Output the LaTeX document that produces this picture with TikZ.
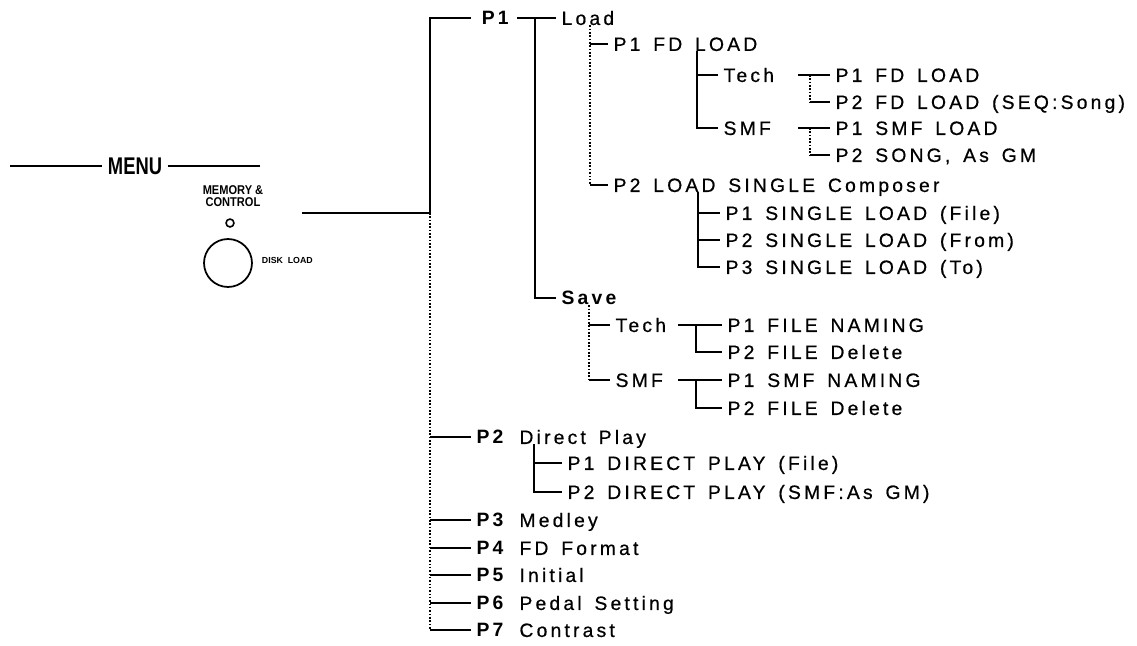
\documentclass[tikz,border=0pt]{standalone}
\usepackage{fontspec}
\setmainfont{Liberation Sans}
\newfontfamily\spaced[LetterSpace=16.5,WordSpace=1.5,UprightFeatures={FakeBold=0.6}]{Liberation Sans}
\usetikzlibrary{positioning}
\newcommand\itemfont{\spaced\fontsize{11}{12}\selectfont}
\tikzset{
item/.style={anchor=west,inner xsep=3pt,inner ysep=0pt,text height=7.9pt,text depth=0pt,font=\itemfont},
link/.style={line width=.9pt},
dotlink/.style={line width=.9pt,densely dotted},
tinylabel/.style={inner sep=0pt,align=center,font=\bfseries\fontsize{6.3}{7}\selectfont},
menulabel/.style={inner sep=3pt,font=\bfseries\fontsize{11}{12}\selectfont}
}

\begin{document}
\begin{tikzpicture}[x=0.02cm,y=-0.02cm]
\useasboundingbox (0,0) rectangle (1137,646);

\node[menulabel] (menu) at (135,166) {\scalebox{0.95}[1.25]{MENU}};
\coordinate (menuL) at (10,166);
\coordinate (menuR) at (260,166);
\draw[link] (menuL) -- (menu.west);
\draw[link] (menu.east) -- (menuR);

\node[tinylabel] (memctl) at (233,196) {\scalebox{1}[1.15]{MEMORY \&}\\\scalebox{1}[1.15]{CONTROL}};
\node[circle,draw,line width=.9pt,minimum size=4.5pt,inner sep=0pt] (led) at (230,223) {};
\node[circle,draw,line width=1pt,minimum size=27.3pt,inner sep=0pt] (button) at (228,263) {};
\node[tinylabel,font=\bfseries\fontsize{5}{6}\selectfont,right=5pt of button,yshift=1.5pt] (disk) {DISK\ \ LOAD};
\coordinate (btnlink) at (302,213);

\node[item,inner xsep=6pt] (p1) at (471,18) {\textbf{P1}};
\node[item] (p2) at (471,437) {\textbf{P2} Direct Play};
\node[item] (p3) at (471,520) {\textbf{P3} Medley};
\node[item] (p4) at (471,548) {\textbf{P4} FD Format};
\node[item] (p5) at (471,575) {\textbf{P5} Initial};
\node[item] (p6) at (471,603) {\textbf{P6} Pedal Setting};
\node[item] (p7) at (471,630) {\textbf{P7} Contrast};

\node[item] (load) at (556,18) {Load};
\node[item] (save) at (556,298) {\textbf{Save}};

\node[item] (fdload) at (608,44) {P1 FD LOAD};
\node[item] (single) at (608,185) {P2 LOAD SINGLE Composer};

\node[item] (tech) at (718,75) {Tech};
\node[item] (smf) at (718,128) {SMF};
\node[item] (fdone) at (830,75) {P1 FD LOAD};
\node[item] (fdtwo) at (830,102) {P2 FD LOAD (SEQ:Song)};
\node[item] (smfone) at (830,128) {P1 SMF LOAD};
\node[item] (smftwo) at (830,155) {P2 SONG, As GM};

\node[item] (sgone) at (720,213) {P1 SINGLE LOAD (File)};
\node[item] (sgtwo) at (720,240) {P2 SINGLE LOAD (From)};
\node[item] (sgthree) at (720,267) {P3 SINGLE LOAD (To)};

\node[item] (svtech) at (610,325) {Tech};
\node[item] (svsmf) at (610,380) {SMF};
\node[item] (fnone) at (722,325) {P1 FILE NAMING};
\node[item] (fntwo) at (722,352) {P2 FILE Delete};
\node[item] (snone) at (722,380) {P1 SMF NAMING};
\node[item] (sntwo) at (722,408) {P2 FILE Delete};

\node[item] (dpone) at (562,463) {P1 DIRECT PLAY (File)};
\node[item] (dptwo) at (562,492) {P2 DIRECT PLAY (SMF:As GM)};

\coordinate (trunk) at (430,0);
\coordinate (pjoin) at (517,0);
\coordinate (pbar) at (535,0);
\coordinate (lbar) at (590,0);
\coordinate (fbar) at (697,0);
\coordinate (tjoin) at (798,0);
\coordinate (tbar) at (810,0);
\coordinate (sbar) at (698,0);
\coordinate (vbar) at (589,0);
\coordinate (vjoin) at (678,0);
\coordinate (vbarb) at (696,0);
\coordinate (dbar) at (534,0);

\draw[link] (btnlink) -- (btnlink -| trunk);
\draw[link] (p1.west) -- (p1.west -| trunk) -- (btnlink -| trunk);
\draw[dotlink] (btnlink -| trunk) -- (p7.west -| trunk);
\foreach \n in {p2,p3,p4,p5,p6,p7}
  \draw[link] (\n.west -| trunk) -- (\n.west);

\draw[link] (pjoin |- load.west) -- (load.west);
\draw[link] (pbar |- load.west) -- (pbar |- save.west) -- (save.west);

\draw[dotlink] (lbar |- load.south) -- (lbar |- single.west);
\draw[link] (lbar |- fdload.west) -- (fdload.west);
\draw[link] (lbar |- single.west) -- (single.west);

\draw[link] (fbar |- fdload.south) -- (fbar |- smf.west) -- (smf.west);
\draw[link] (fbar |- tech.west) -- (tech.west);

\draw[link] (tjoin |- fdone.west) -- (fdone.west);
\draw[dotlink] (tbar |- fdone.west) -- (tbar |- fdtwo.west);
\draw[link] (tbar |- fdtwo.west) -- (fdtwo.west);
\draw[link] (tjoin |- smfone.west) -- (smfone.west);
\draw[dotlink] (tbar |- smfone.west) -- (tbar |- smftwo.west);
\draw[link] (tbar |- smftwo.west) -- (smftwo.west);

\draw[link] (sbar |- single.south) -- (sbar |- sgthree.west) -- (sgthree.west);
\foreach \n in {sgone,sgtwo}
  \draw[link] (sbar |- \n.west) -- (\n.west);

\draw[dotlink] (vbar |- save.south) -- (vbar |- svsmf.west);
\draw[link] (vbar |- svtech.west) -- (svtech.west);
\draw[link] (vbar |- svsmf.west) -- (svsmf.west);

\draw[link] (vjoin |- fnone.west) -- (fnone.west);
\draw[link] (vbarb |- fnone.west) -- (vbarb |- fntwo.west) -- (fntwo.west);
\draw[link] (vjoin |- snone.west) -- (snone.west);
\draw[link] (vbarb |- snone.west) -- (vbarb |- sntwo.west) -- (sntwo.west);

\draw[link] (dbar |- p2.south) -- (dbar |- dptwo.west) -- (dptwo.west);
\draw[link] (dbar |- dpone.west) -- (dpone.west);
\end{tikzpicture}
\end{document}
